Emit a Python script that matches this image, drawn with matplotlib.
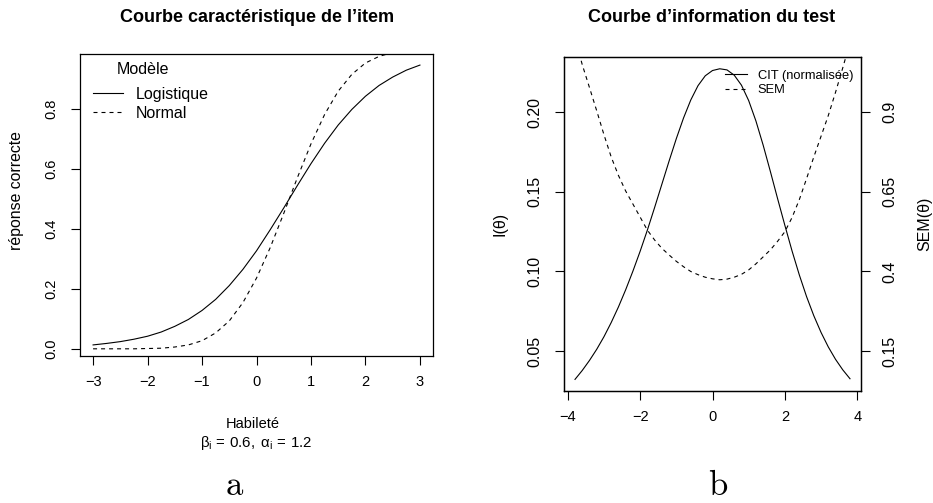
import numpy as np
import matplotlib
matplotlib.use("Agg")
import matplotlib.pyplot as plt

plt.rcParams['font.family'] = ['Liberation Sans', 'DejaVu Sans']
plt.rcParams['mathtext.fontset'] = 'custom'
plt.rcParams['mathtext.rm'] = 'Liberation Sans'
plt.rcParams['mathtext.it'] = 'Liberation Sans'
plt.rcParams['mathtext.bf'] = 'Liberation Sans:bold'

# --- panel a : item characteristic curves
theta_a = [-3.0, -2.75, -2.5, -2.25, -2.0, -1.75, -1.5, -1.25, -1.0, -0.75, -0.5, -0.25,
           0.0, 0.25, 0.5, 0.75, 1.0, 1.25, 1.5, 1.75, 2.0, 2.25, 2.5, 2.75, 3.0]
p_logist = [0.013, 0.018, 0.024, 0.032, 0.042, 0.056, 0.075, 0.098, 0.128, 0.165, 0.211, 0.265,
            0.327, 0.397, 0.470, 0.545, 0.618, 0.686, 0.747, 0.799, 0.843, 0.879, 0.907, 0.930, 0.947]
p_normal = [0.000, 0.000, 0.000, 0.000, 0.001, 0.002, 0.006, 0.013, 0.027, 0.053, 0.093, 0.154,
            0.236, 0.337, 0.452, 0.571, 0.684, 0.782, 0.860, 0.916, 0.954, 0.976, 0.989, 0.995, 0.998]

# --- panel b : test information (left axis) and SEM (right axis)
theta_b = [-3.8, -3.6, -3.4, -3.2, -3.0, -2.8, -2.6, -2.4, -2.2, -2.0, -1.8, -1.6, -1.4,
           -1.2, -1.0, -0.8, -0.6, -0.4, -0.2, 0.0, 0.2, 0.4, 0.6, 0.8, 1.0, 1.2, 1.4,
           1.6, 1.8, 2.0, 2.2, 2.4, 2.6, 2.8, 3.0, 3.2, 3.4, 3.6, 3.8]
info = [0.0322, 0.0378, 0.0441, 0.0511, 0.0590, 0.0679, 0.0777, 0.0885, 0.1002, 0.1127, 0.1260, 0.1402, 0.1548,
        0.1694, 0.1835, 0.1965, 0.2078, 0.2168, 0.2230, 0.2263, 0.2274, 0.2267, 0.2234, 0.2171, 0.2074, 0.1946, 0.1794,
        0.1628, 0.1457, 0.1290, 0.1128, 0.0978, 0.0842, 0.0722, 0.0617, 0.0526, 0.0448, 0.0382, 0.0326]
sem = [1.135, 1.050, 0.978, 0.905, 0.830, 0.760, 0.702, 0.653, 0.612, 0.571, 0.530, 0.499, 0.473,
       0.452, 0.432, 0.415, 0.400, 0.390, 0.382, 0.377, 0.374, 0.376, 0.382, 0.391, 0.405, 0.424, 0.446,
       0.468, 0.495, 0.525, 0.570, 0.626, 0.692, 0.760, 0.825, 0.890, 0.963, 1.040, 1.120]

W, H = 933, 503
fig = plt.figure(figsize=(W / 100, H / 100), dpi=100)


def box(x0, y0, x1, y1):
    return [x0 / W, 1 - y1 / H, (x1 - x0) / W, (y1 - y0) / H]


def fpos(x, y):
    return (x / W, 1 - y / H)


def ftext(x, y, s, **kw):
    fig.text(x / W, 1 - y / H, s, ha='center', va='center', **kw)


lw = 0.8
dash = (0, (3.6, 3.6))


def rstyle(ax, ysize=10.5):
    for sp in ax.spines.values():
        sp.set_linewidth(0.9)
    ax.tick_params(direction='out', length=6.5, width=0.8, labelsize=10.5, pad=7)
    ax.tick_params(axis='y', labelrotation=90, labelsize=ysize, pad=9)
    for lab in ax.get_yticklabels():
        lab.set_va('center')


# panel a
ax1 = fig.add_axes(box(80, 54, 433, 356))
ax1.plot(theta_a, p_logist, color='black', lw=lw, label='Logistique')
ax1.plot(theta_a, p_normal, color='black', lw=lw, linestyle=dash, label='Normal')
ax1.set_xlim(-3.24, 3.24)
ax1.set_ylim(-0.024, 0.984)
ax1.set_xticks([-3, -2, -1, 0, 1, 2, 3])
ax1.set_yticks([0.0, 0.2, 0.4, 0.6, 0.8])
ax1.set_yticklabels(['0.0', '0.2', '0.4', '0.6', '0.8'])
rstyle(ax1)
ax1.legend(loc='upper left', bbox_to_anchor=fpos(93, 87), bbox_transform=fig.transFigure,
           frameon=False, fontsize=11.5, handlelength=1.9, handletextpad=0.75,
           labelspacing=0.25, borderpad=0, borderaxespad=0)
ftext(143, 69, 'Modèle', fontsize=11.5)

ftext(257, 17, 'Courbe caractéristique de l’item', fontsize=13, fontweight='bold')
ftext(17, 191, 'réponse correcte', fontsize=11.4, rotation=90)
ftext(253, 424, 'Habileté', fontsize=10.5)
ftext(256, 443, r'$\beta_\mathrm{i}\,=\,0.6,\ \alpha_\mathrm{i}\,=\,1.2$', fontsize=10.8)
ftext(234, 486, 'a', fontsize=25, family='cmr10')

# panel b
ax2 = fig.add_axes(box(564, 57, 861, 391))
l1, = ax2.plot(theta_b, info, color='black', lw=lw, label='CIT (normalisée)')
ax2.set_xlim(-4.104, 4.104)
ax2.set_ylim(0.0249, 0.2348)
ax2.set_xticks([-4, -2, 0, 2, 4])
ax2.set_yticks([0.05, 0.10, 0.15, 0.20])
ax2.set_yticklabels(['0.05', '0.10', '0.15', '0.20'])
rstyle(ax2, ysize=11.5)

ax3 = ax2.twinx()
l2, = ax3.plot(theta_b, sem, color='black', lw=lw, linestyle=dash, label='SEM')
ax3.set_ylim(0.0245, 1.074)
ax3.set_yticks([0.15, 0.4, 0.65, 0.9])
ax3.set_yticklabels(['0.15', '0.4', '0.65', '0.9'])
rstyle(ax3, ysize=11.5)

ax3.legend(handles=[l1, l2], loc='upper right', bbox_to_anchor=(1.0, 0.985), frameon=False,
           fontsize=9.3, handlelength=1.7, handletextpad=0.8, labelspacing=0.2, borderaxespad=0.2)

ftext(712, 17, 'Courbe d’information du test', fontsize=13, fontweight='bold')
ftext(500, 224, 'I(θ)', fontsize=11.5, rotation=90)
ftext(925, 224, 'SEM(θ)', fontsize=11.5, rotation=90)
ftext(718, 486, 'b', fontsize=25, family='cmr10')

fig.savefig('out.png', dpi=100)
